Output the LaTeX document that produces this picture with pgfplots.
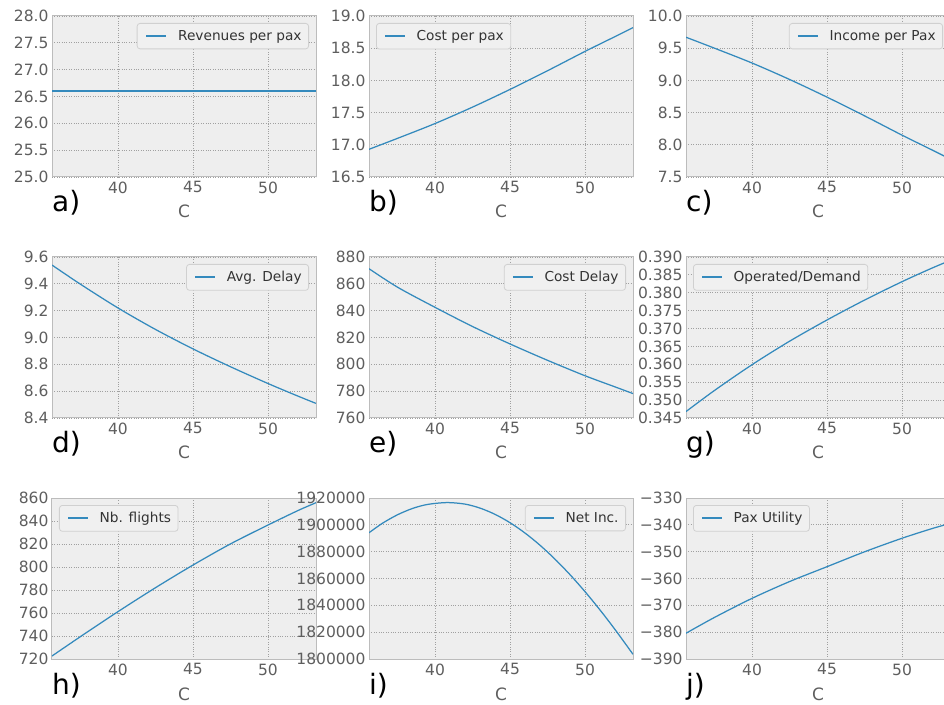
\documentclass[border=0pt]{standalone}
\usepackage{fontspec}
\setmainfont{DejaVu Sans}
\usepackage{pgfplots}
\pgfplotsset{compat=1.18}
\definecolor{bgc}{HTML}{EEEEEE}
\definecolor{framec}{HTML}{BCBCBC}
\definecolor{gridc}{HTML}{A0A0A0}
\definecolor{linec}{HTML}{348ABD}
\definecolor{tickc}{HTML}{5E5E5E}
\definecolor{legc}{HTML}{333333}
\definecolor{legframe}{HTML}{D0D0D0}
\definecolor{legfill}{HTML}{F0F0F0}
\pgfplotsset{
  panel/.style={
    scale only axis, width=264pt, height=161pt, anchor=south west,
    xmin=35.6, xmax=53.2, xtick={40,45,50},
    axis background/.style={fill=bgc},
    axis line style={draw=framec, line width=1pt},
    grid=major, major grid style={draw=gridc, dotted, line width=0.8pt},
    major tick length=0pt,
    tick label style={font=\fontsize{15.5}{18}\selectfont, text=tickc},
    xticklabel style={yshift=-1pt},
    /pgf/number format/assume math mode=true,
    xlabel={C},
    xlabel style={font=\fontsize{17}{20}\selectfont, text=tickc, at={(axis description cs:0.5,0)}, anchor=base, yshift=-41pt},
    legend style={font=\fontsize{13.7}{16}\selectfont, text=legc, draw=legframe, fill=legfill,
      rounded corners=3pt, line width=0.8pt, inner xsep=5pt, inner ysep=5pt,
      nodes={inner sep=2pt, text depth=0.15em}, cells={anchor=west}},
    legend image code/.code={\path (-3pt,0pt) (29pt,0pt); \draw[draw=linec, line width=2pt] (0pt,0.5pt) -- (20pt,0.5pt);},
  },
  ln/.style={draw=linec, line width=1.25pt, mark=none, smooth},
  legNE/.style={legend style={at={(1,1)}, anchor=north east, xshift=-7pt, yshift=-7pt}},
  legNW/.style={legend style={at={(0,1)}, anchor=north west, xshift=7pt, yshift=-7pt}},
  fmt1/.style={yticklabel style={/pgf/number format/.cd, fixed, fixed zerofill, precision=1}},
}
\newcommand{\plab}[3]{\node[anchor=base west, inner sep=0pt, font=\fontsize{28}{30}\selectfont] at (#1pt,#2pt) {#3};}
\begin{document}
\begin{tikzpicture}
\useasboundingbox (0,0) rectangle (944pt,704pt);
\clip (0,0) rectangle (944pt,704pt);
% ---- row 1 ----
\begin{axis}[panel, legNE, fmt1, at={(52pt,527pt)}, ymin=25, ymax=28, ytick={25,25.5,...,28}]
\addplot[draw=linec, line width=2pt] coordinates {(35.6,26.61) (53.2,26.61)};
\addlegendentry{Revenues per pax}
\end{axis}
\plab{52}{492}{a)}
\begin{axis}[panel, legNW, fmt1, at={(369pt,527pt)}, ymin=16.5, ymax=19, ytick={16.5,17,17.5,18,18.5,19}]
\addplot[ln] coordinates {(35.6,16.93) (37.5,17.10) (40,17.33) (42.5,17.585) (45,17.86) (47.5,18.15) (50,18.45) (52,18.68) (53.2,18.82)};
\addlegendentry{Cost per pax}
\end{axis}
\plab{369}{492}{b)}
\begin{axis}[panel, legNE, fmt1, at={(686pt,527pt)}, ymin=7.5, ymax=10, ytick={7.5,8,8.5,9,9.5,10}]
\addplot[ln] coordinates {(35.6,9.67) (37.5,9.50) (40,9.27) (42.5,9.015) (45,8.74) (47.5,8.45) (50,8.15) (52,7.92) (53.2,7.78)};
\addlegendentry{Income per Pax}
\end{axis}
\plab{686}{492}{c)}
% ---- row 2 ----
\begin{axis}[panel, legNE, fmt1, at={(52pt,286pt)}, ymin=8.4, ymax=9.6, ytick={8.4,8.6,8.8,9,9.2,9.4,9.6}]
\addplot[ln] coordinates {(35.6,9.54) (37.5,9.397) (40,9.22) (42.5,9.06) (45,8.915) (47.5,8.782) (50,8.657) (52,8.563) (53.2,8.509)};
\addlegendentry{Avg. Delay}
\end{axis}
\plab{52}{251}{d)}
\begin{axis}[panel, legNE, at={(369pt,286pt)}, ymin=760, ymax=880, ytick={760,780,...,880}]
\addplot[ln] coordinates {(35.6,871.3) (37.5,857.5) (40,842.5) (42.5,828.2) (45,815.2) (47.5,803.0) (50,791.5) (52,783.2) (53.2,778.2)};
\addlegendentry{Cost Delay}
\end{axis}
\plab{369}{251}{e)}
\begin{axis}[panel, legNW, at={(686pt,286pt)}, ymin=0.345, ymax=0.390,
  ytick={0.345,0.350,0.355,0.360,0.365,0.370,0.375,0.380,0.385,0.390},
  yticklabel style={/pgf/number format/.cd, fixed, fixed zerofill, precision=3}]
\addplot[ln] coordinates {(35.6,0.3468) (37.5,0.3527) (40,0.3599) (42.5,0.36645) (45,0.3724) (47.5,0.37795) (50,0.3831) (52,0.3869) (53.2,0.3890)};
\addlegendentry{Operated/Demand}
\end{axis}
\plab{686}{251}{g)}
% ---- row 3 ----
\begin{axis}[panel, legNW, at={(52pt,45pt)}, ymin=720, ymax=860, ytick={720,740,...,860}]
\addplot[ln] coordinates {(35.6,722.6) (37.5,739.5) (40,761.2) (42.5,782) (45,801.7) (47.5,820.1) (50,836.5) (52,849.1) (53.2,855.9)};
\addlegendentry{Nb. flights}
\end{axis}
\plab{52}{10}{h)}
\begin{axis}[panel, legNE, at={(369pt,45pt)}, ymin=1800000, ymax=1920000,
  ytick={1800000,1820000,1840000,1860000,1880000,1900000,1920000},
  scaled y ticks=false,
  yticklabel style={/pgf/number format/.cd, fixed, 1000 sep={}}]
\addplot[ln] coordinates {(35.6,1894100) (36.5,1901200) (37.5,1907500) (38.5,1912200) (39.5,1915200) (40.8,1916600) (42,1915450) (43,1912480) (44,1907830) (45,1901600) (46,1893890) (47,1884800) (48,1874420) (49,1862860) (50,1850200) (51,1836550) (52,1822000) (53.2,1803500)};
\addlegendentry{Net Inc.}
\end{axis}
\plab{369}{10}{i)}
\begin{axis}[panel, legNW, at={(686pt,45pt)}, ymin=-390, ymax=-330, ytick={-390,-380,...,-330},
  yticklabels={−390,−380,−370,−360,−350,−340,−330}]
\addplot[ln] coordinates {(35.6,-380.4) (37.5,-374.5) (40,-367.4) (42.5,-361.15) (45,-355.6) (47.5,-350.05) (50,-345.0) (52,-341.4) (53.2,-339.5)};
\addlegendentry{Pax Utility}
\end{axis}
\plab{686}{10}{j)}
\end{tikzpicture}
\end{document}
